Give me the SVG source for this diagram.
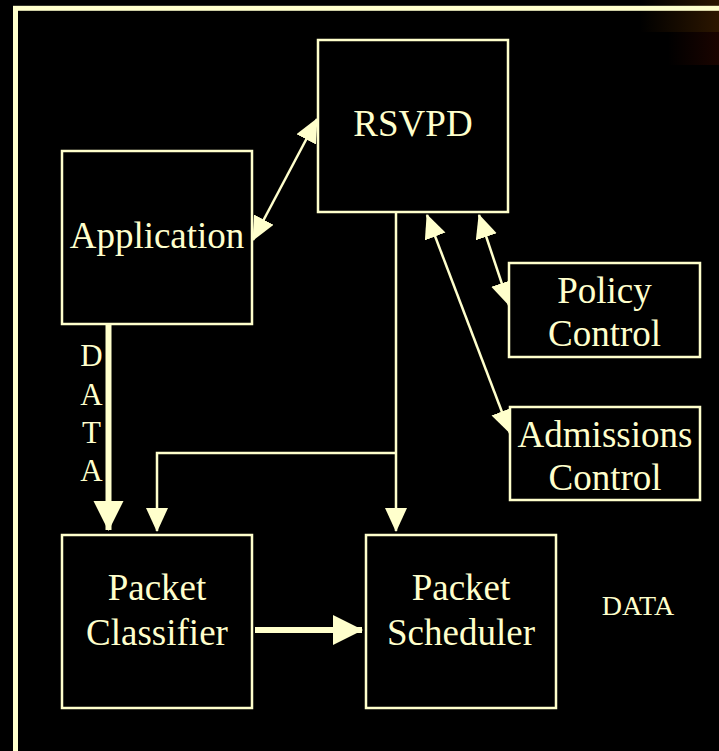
<svg xmlns="http://www.w3.org/2000/svg" width="719" height="751" viewBox="0 0 719 751">
  <style>
    .box { fill: #000000; stroke: #FFFFCC; stroke-width: 2.5; }
    .lbl { font-family: "Liberation Serif", "Times New Roman", serif; font-size: 37px; fill: #FFFFCC; text-anchor: middle; }
    .data { font-family: "Liberation Serif", "Times New Roman", serif; font-size: 31px; fill: #FFFFCC; text-anchor: middle; }
    .thin { fill: none; stroke: #FFFFCC; stroke-width: 2.5; }
    .thick { fill: none; stroke: #FFFFCC; stroke-width: 6; }
  </style>
  <defs>
    <linearGradient id="glowTop" x1="0" y1="0" x2="1" y2="0">
      <stop offset="0" stop-color="#000000"/>
      <stop offset="1" stop-color="#2c1600"/>
    </linearGradient>
    <linearGradient id="glowLow" x1="0" y1="0" x2="1" y2="0">
      <stop offset="0" stop-color="#000000"/>
      <stop offset="1" stop-color="#1a0400"/>
    </linearGradient>
    <marker id="head" markerUnits="userSpaceOnUse" markerWidth="25" markerHeight="23" refX="23" refY="11" orient="auto-start-reverse">
      <path d="M0,0 L24,11 L0,22 z" fill="#FFFFCC"/>
    </marker>
    <marker id="bighead" markerUnits="userSpaceOnUse" markerWidth="31" markerHeight="31" refX="29" refY="15" orient="auto">
      <path d="M0,0 L30,15 L0,30 z" fill="#FFFFCC"/>
    </marker>
  </defs>

  <!-- background -->
  <rect x="0" y="0" width="719" height="751" fill="#000000"/>
  <rect x="640" y="0" width="79" height="32" fill="url(#glowTop)"/>
  <rect x="668" y="32" width="51" height="33" fill="url(#glowLow)"/>

  <!-- slide frame, open to the right and bottom -->
  <rect x="15.5" y="8.3" width="800" height="800" fill="none" stroke="#FFFFCC" stroke-width="5"/>

  <!-- connectors -->
  <g id="connectors">
    <line class="thin" x1="253" y1="240" x2="317" y2="119" marker-start="url(#head)" marker-end="url(#head)"/>
    <line class="thin" x1="479" y1="215" x2="509" y2="305" marker-start="url(#head)" marker-end="url(#head)"/>
    <line class="thin" x1="427" y1="215" x2="510" y2="433" marker-start="url(#head)" marker-end="url(#head)"/>
    <line class="thin" x1="396" y1="212" x2="396" y2="531" marker-end="url(#head)"/>
    <polyline class="thin" points="396,453 157,453 157,531" marker-end="url(#head)"/>
    <line class="thick" x1="108.5" y1="325" x2="108.5" y2="530" marker-end="url(#bighead)"/>
    <line class="thick" x1="255" y1="630" x2="362" y2="630" marker-end="url(#bighead)"/>
  </g>

  <!-- DATA labels -->
  <g id="data-vertical">
    <text class="data" x="91.5" y="366">D</text>
    <text class="data" x="91.5" y="404.5">A</text>
    <text class="data" x="91.5" y="443">T</text>
    <text class="data" x="91.5" y="481">A</text>
  </g>
  <text id="data-right" class="data" x="638" y="615" style="font-size:28px">DATA</text>

  <!-- nodes -->
  <g id="rsvpd">
    <rect class="box" x="318" y="40" width="190" height="172"/>
    <text class="lbl" x="413" y="136">RSVPD</text>
  </g>
  <g id="application">
    <rect class="box" x="62" y="151" width="190" height="173"/>
    <text class="lbl" x="157" y="248">Application</text>
  </g>
  <g id="policy-control">
    <rect class="box" x="509" y="263" width="191" height="94"/>
    <text class="lbl" x="604.5" y="303">Policy</text>
    <text class="lbl" x="604.5" y="346">Control</text>
  </g>
  <g id="admissions-control">
    <rect class="box" x="510" y="407" width="190" height="93"/>
    <text class="lbl" x="605" y="447">Admissions</text>
    <text class="lbl" x="605" y="490">Control</text>
  </g>
  <g id="packet-classifier">
    <rect class="box" x="62" y="535" width="190" height="173"/>
    <text class="lbl" x="157" y="600">Packet</text>
    <text class="lbl" x="157" y="645">Classifier</text>
  </g>
  <g id="packet-scheduler">
    <rect class="box" x="366" y="535" width="190" height="173"/>
    <text class="lbl" x="461" y="600">Packet</text>
    <text class="lbl" x="461" y="645">Scheduler</text>
  </g>
</svg>
